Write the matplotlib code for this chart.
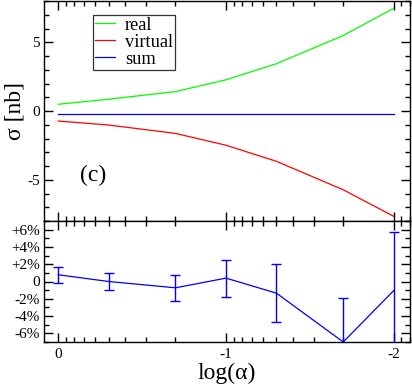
import numpy as np
import matplotlib
matplotlib.use("Agg")
import matplotlib.pyplot as plt
from matplotlib.ticker import LogLocator, FixedLocator, FixedFormatter, MultipleLocator, NullFormatter

plt.rcParams['font.family'] = ['Liberation Serif', 'DejaVu Serif']

# data
alpha = [1.0, 0.5, 0.2, 0.1, 0.05, 0.02, 0.01]
real = [0.49, 0.86, 1.41, 2.27, 3.44, 5.49, 7.47]
virtual = [-0.73, -1.02, -1.63, -2.49, -3.66, -5.73, -7.66]
total = [-0.24, -0.24, -0.24, -0.24, -0.24, -0.24, -0.24]
ratio = [0.78, 0.0, -0.73, 0.39, -1.35, -7.0, -1.05]
ratio_err = [0.93, 1.03, 1.47, 2.15, 3.35, 5.07, 6.79]

top_ticks = [5, 0, -5]
top_labels = ['5', '0', '-5']
bot_ticks = [6, 4, 2, 0, -2, -4, -6]
bot_labels = ['+6%', '+4%', '+2%', '0', '-2%', '-4%', '-6%']
x_ticks = [1.0, 0.1, 0.01]
x_labels = ['0', '-1', '-2']

W, H = 412, 387
fig = plt.figure(figsize=(W / 100, H / 100), dpi=100)

left = 44.3 / W
right = 410 / W
ax1 = fig.add_axes([left, 1 - 221 / H, right - left, 220 / H])
ax2 = fig.add_axes([left, 1 - 342 / H, right - left, 121 / H])

xlo, xhi = 10 ** 0.083, 10 ** -2.097
for ax in (ax1, ax2):
    ax.set_xscale('log')
    ax.set_xlim(xlo, xhi)
    ax.xaxis.set_major_locator(FixedLocator(x_ticks))
    ax.xaxis.set_minor_locator(LogLocator(base=10, subs=np.arange(2, 10)))
    ax.xaxis.set_minor_formatter(NullFormatter())
    ax.tick_params(which='both', direction='in', top=True, right=True, width=1.0, labelsize=11, pad=3)
    ax.tick_params(which='major', length=6.8)
    ax.tick_params(which='minor', length=3.6)
    for s in ax.spines.values():
        s.set_linewidth(1.0)

ax1.plot(alpha, real, color='#00ff00', lw=0.9, label='real')
ax1.plot(alpha, virtual, color='#ff0000', lw=0.9, label='virtual')
ax1.plot(alpha, total, color='#0000ff', lw=0.9, label='sum')
ax1.set_ylim(-8, 8)
ax1.yaxis.set_major_locator(FixedLocator(top_ticks))
ax1.yaxis.set_major_formatter(FixedFormatter(top_labels))
ax1.yaxis.set_minor_locator(MultipleLocator(1))
ax1.xaxis.set_major_formatter(NullFormatter())

leg = ax1.legend(loc='upper left', bbox_to_anchor=(0.1323, 0.936), borderaxespad=0,
                 fontsize=13.2, frameon=True, fancybox=False, handlelength=1.1,
                 handletextpad=0.55, borderpad=0.1, labelspacing=0.0)
leg.get_frame().set_edgecolor('black')
leg.get_frame().set_linewidth(0.9)

ax1.text(0.1345, 0.205, '(c)', transform=ax1.transAxes, fontsize=17, ha='center', va='center')

ax2.errorbar(alpha, ratio, yerr=ratio_err, color='#0000ff', lw=0.9, elinewidth=1.0,
             capsize=3.4, capthick=1.0)
ax2.set_ylim(-7, 7)
ax2.yaxis.set_major_locator(FixedLocator(bot_ticks))
ax2.yaxis.set_major_formatter(FixedFormatter(bot_labels))
ax2.yaxis.set_minor_locator(MultipleLocator(1))
ax2.xaxis.set_major_formatter(FixedFormatter(x_labels))
ax2.tick_params(axis='x', pad=4)

fig.text(227 / W, 1 - 373 / H, 'log(α)', fontsize=17, ha='center', va='center')
fig.text(15 / W, 1 - 111 / H, 'σ [nb]', fontsize=17, ha='center', va='center', rotation=90)

fig.savefig('out.png', dpi=100)
